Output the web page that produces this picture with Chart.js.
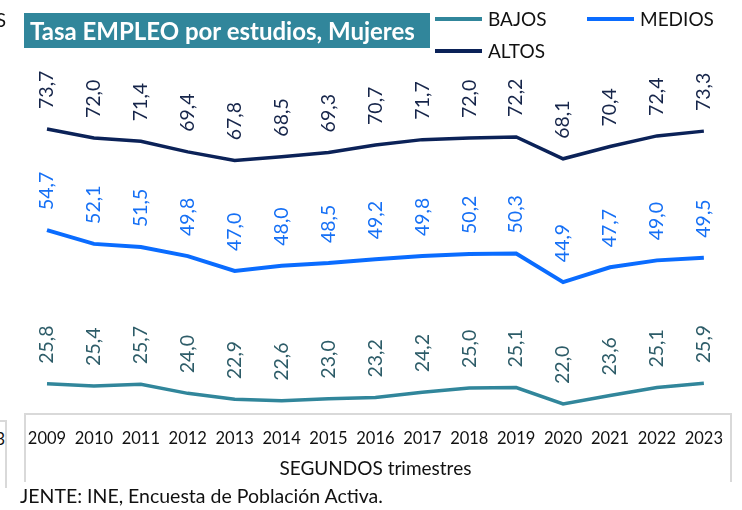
<!DOCTYPE html>
<html>
<head>
<meta charset="utf-8">
<script src="https://cdn.jsdelivr.net/npm/chart.js@4"></script>
<style>
  body { margin: 0; background: #fff; font-family: Lato, "Open Sans", sans-serif; }
  #wrap { position: relative; width: 742px; height: 510px; overflow: hidden; }
  #chart { position: absolute; left: 0; top: 0; }
  .title { position: absolute; left: 24px; top: 13px; width: 406px; height: 35px; background: #31869B;
           color: #fff; font-weight: bold; font-size: 24px; line-height: 35px; padding-left: 6px; box-sizing: border-box; white-space: nowrap; }
  .leg { position: absolute; font-size: 19px; color: #111; line-height: 20px; white-space: nowrap; }
  .leg span.sw { display: inline-block; width: 47px; height: 4px; vertical-align: middle; margin-right: 6px; position: relative; top: -2px; }
  .axisbox { position: absolute; left: 24px; top: 413px; width: 708px; height: 69px; border: 2px solid #D9D9D9; border-bottom: none; box-sizing: border-box; }
  .cutbox { position: absolute; left: -60px; top: 420px; width: 67px; height: 68px; border: 2px solid #D9D9D9; border-bottom: none; box-sizing: border-box;
            font-size: 17px; text-align: right; padding-right: 0; line-height: 34px; color: #111; }
  .cut { position: absolute; left: -51px; top: 8px; font-size: 19px; color: #111; }
  .src { position: absolute; left: 20px; top: 484px; font-size: 19.5px; color: #111; white-space: nowrap; }
</style>
</head>
<body>
<div id="wrap">
  <div class="axisbox"></div>
  <div class="cutbox">2023</div>
  <canvas id="chart" width="742" height="510"></canvas>
  <div class="cut">ALTOS</div>
  <div class="title">Tasa EMPLEO por estudios, Mujeres</div>
  <div id="legend"></div>
  <div class="src">JENTE: INE, Encuesta de Población Activa.</div>
</div>
<script>
const years = ["2009", "2010", "2011", "2012", "2013", "2014", "2015", "2016", "2017", "2018", "2019", "2020", "2021", "2022", "2023"];
const bajos = [25.8, 25.4, 25.7, 24.0, 22.9, 22.6, 23.0, 23.2, 24.2, 25.0, 25.1, 22.0, 23.6, 25.1, 25.9];
const medios = [54.7, 52.1, 51.5, 49.8, 47.0, 48.0, 48.5, 49.2, 49.8, 50.2, 50.3, 44.9, 47.7, 49.0, 49.5];
const altos = [73.7, 72.0, 71.4, 69.4, 67.8, 68.5, 69.3, 70.7, 71.7, 72.0, 72.2, 68.1, 70.4, 72.4, 73.3];

const seriesNames = ["BAJOS", "MEDIOS", "ALTOS"];
const lineColors = ["#31869B", "#0A6CFF", "#0B2258"];
const labelColors = ["#2D5C68", "#1670F5", "#16254A"];

// legend in html, placed like the original
const legPos = [[435, 9], [587, 9], [435, 41]];
const legend = document.getElementById("legend");
seriesNames.forEach((n, i) => {
  const d = document.createElement("div");
  d.className = "leg";
  d.style.left = legPos[i][0] + "px";
  d.style.top = legPos[i][1] + "px";
  d.innerHTML = '<span class="sw" style="background:' + lineColors[i] + '"></span>' + n;
  legend.appendChild(d);
});

const valueLabels = {
  id: "valueLabels",
  afterDatasetsDraw(chart) {
    const ctx = chart.ctx;
    ctx.save();
    ctx.font = "19.5px Lato";
    ctx.textAlign = "left";
    ctx.textBaseline = "middle";
    chart.data.datasets.forEach((ds, i) => {
      chart.getDatasetMeta(i).data.forEach((pt, j) => {
        ctx.save();
        ctx.translate(pt.x, pt.y - 20);
        ctx.rotate(-Math.PI / 2);
        ctx.fillStyle = labelColors[i];
        ctx.fillText(ds.data[j].toFixed(1).replace(".", ","), 0, 0);
        ctx.restore();
      });
    });
    ctx.restore();
  }
};

new Chart(document.getElementById("chart"), {
  type: "line",
  data: {
    labels: years,
    datasets: [
      { label: seriesNames[0], data: bajos, borderColor: lineColors[0], borderWidth: 3.5 },
      { label: seriesNames[1], data: medios, borderColor: lineColors[1], borderWidth: 4 },
      { label: seriesNames[2], data: altos, borderColor: lineColors[2], borderWidth: 3.5 }
    ]
  },
  options: {
    responsive: false,
    animation: false,
    pointRadius: 0,
    tension: 0,
    layout: { padding: { top: 60, bottom: 30, left: 47, right: 31 } },
    plugins: { legend: { display: false }, tooltip: { enabled: false } },
    scales: {
      y: { display: false, min: 20.87, max: 86.67 },
      x: {
        offset: false,
        grid: { display: false, drawTicks: false },
        border: { display: false },
        ticks: { color: "#111", font: { family: "Lato", size: 16.5 }, padding: 19, maxRotation: 0, autoSkip: false },
        title: { display: true, text: "SEGUNDOS trimestres", color: "#111", font: { family: "Lato", size: 19 }, padding: { top: 4, bottom: 0 } },
        afterFit(scale) { scale.height = 70; }
      }
    }
  },
  plugins: [valueLabels]
});
</script>
</body>
</html>
